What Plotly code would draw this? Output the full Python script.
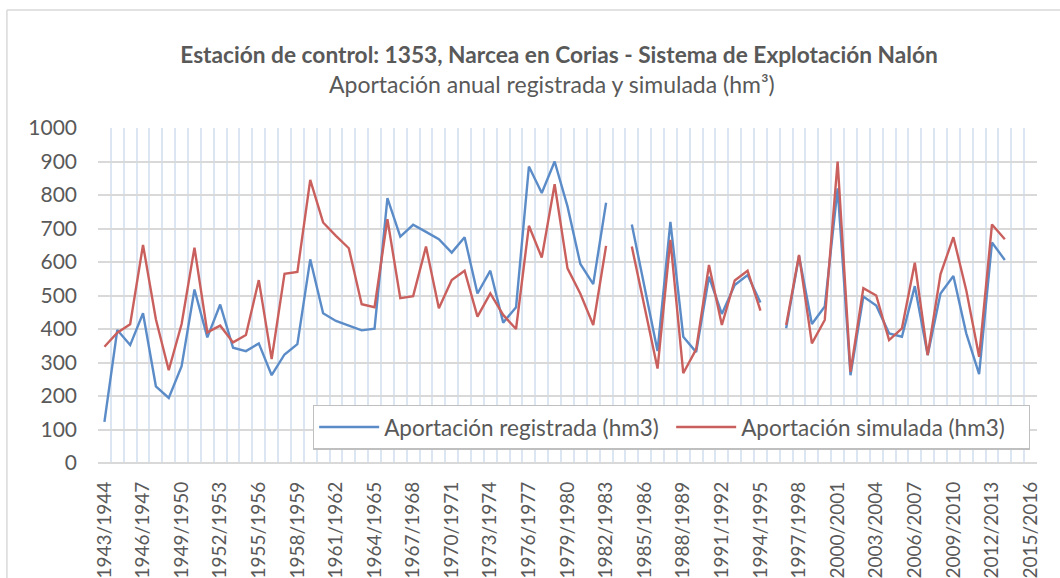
import plotly.graph_objects as go

years = [f"{y}/{y+1}" for y in range(1943, 2016)]

registrada = [123, 397, 352, 447, 229, 194, 289, 518, 375, 473,
              344, 334, 357, 262, 324, 355, 608, 447, 424, 410,
              396, 401, 791, 676, 711, 690, 668, 628, 674, 506,
              574, 419, 465, 885, 806, 900, 766, 594, 534, 777,
              None, 712, 524, 334, 720, 377, 331, 556, 445, 531,
              561, 479, None, 402, 618, 415, 467, 820, 262, 497,
              470, 387, 377, 528, 322, 506, 558, 387, 265, 658,
              606, None, None]

simulada = [347, 389, 414, 651, 429, 277, 415, 643, 390, 410,
            360, 382, 546, 310, 565, 570, 845, 718, 678, 641,
            474, 465, 728, 492, 498, 646, 462, 546, 574, 437,
            506, 442, 400, 708, 613, 832, 581, 505, 412, 648,
            None, 646, 467, 282, 666, 268, 339, 591, 412, 545,
            574, 455, None, 412, 621, 357, 427, 900, 272, 522,
            500, 367, 402, 598, 322, 564, 674, 516, 317, 712,
            668, None, None]

title1 = "Estación de control: 1353, Narcea en Corias - Sistema de Explotación Nalón"
title2 = "Aportación anual registrada y simulada (hm³)"
name_reg = "Aportación registrada (hm3)"
name_sim = "Aportación simulada (hm3)"

n = len(years)
idx = list(range(n))
tick_idx = idx[::3]
tick_txt = [years[i] for i in tick_idx]

FONT = "Lato"
TXT = "#595959"

fig = go.Figure()
fig.add_trace(go.Scatter(x=idx, y=registrada, mode="lines", name=name_reg,
                         line=dict(color="#5B8CC8", width=2.4), connectgaps=False))
fig.add_trace(go.Scatter(x=idx, y=simulada, mode="lines", name=name_sim,
                         line=dict(color="#C9605D", width=2.4), connectgaps=False))

fig.update_layout(
    width=1060, height=578,
    margin=dict(l=98, r=23, t=128, b=115, autoexpand=False),
    paper_bgcolor="white", plot_bgcolor="white",
    font=dict(family=FONT, color=TXT),
    title=dict(text=f"<b>{title1}</b>", xref="container", x=559 / 1060, xanchor="center",
               yref="container", y=1 - 55 / 578, yanchor="middle",
               font=dict(size=22.7, color=TXT, family=FONT)),
    annotations=[dict(text=title2, xref="paper", yref="paper", x=(552 - 98) / 939,
                      y=(463 - 84) / 335,
                      xanchor="center", yanchor="middle", showarrow=False,
                      font=dict(size=23, color=TXT, family=FONT))],
    showlegend=True,
    legend=dict(orientation="h", x=0.9925, xanchor="right", y=0.04, yanchor="bottom",
                bgcolor="white", bordercolor="#BFBFBF", borderwidth=1.2,
                font=dict(size=22.5, color=TXT, family=FONT),
                itemwidth=60, tracegroupgap=0, entrywidth=282, entrywidthmode="pixels"),
    xaxis=dict(range=[-0.5, n - 0.5], tickmode="array", tickvals=tick_idx, ticktext=tick_txt,
               tickangle=-90, showgrid=False, zeroline=False, showline=False, automargin=False,
               ticks="", ticklabelstandoff=14,
               tickfont=dict(size=19, color=TXT, family=FONT),
               minor=dict(tickmode="array", tickvals=[i - 0.5 for i in range(n + 1)],
                          showgrid=True, gridcolor="#DCE6F2", gridwidth=1.6, ticks="")),
    yaxis=dict(range=[0, 1000], dtick=100, showgrid=True, gridcolor="#D9D9D9", gridwidth=1.6,
               zeroline=True, zerolinecolor="#D9D9D9", zerolinewidth=1.6, automargin=False,
               showline=False, ticks="", ticklabelstandoff=20,
               tickfont=dict(size=21, color=TXT, family=FONT)),
    shapes=[
        dict(type="line", xref="paper", yref="paper", x0=-0.097, x1=1.2, y0=1.352, y1=1.352,
             line=dict(color="#D9D9D9", width=1.5)),
        dict(type="line", xref="paper", yref="paper", x0=-0.097, x1=-0.097, y0=-1, y1=1.352,
             line=dict(color="#D9D9D9", width=1.5)),
    ],
)

fig.write_html("out.html", config={"displayModeBar": False},
               post_script="document.body.style.margin='0';")
